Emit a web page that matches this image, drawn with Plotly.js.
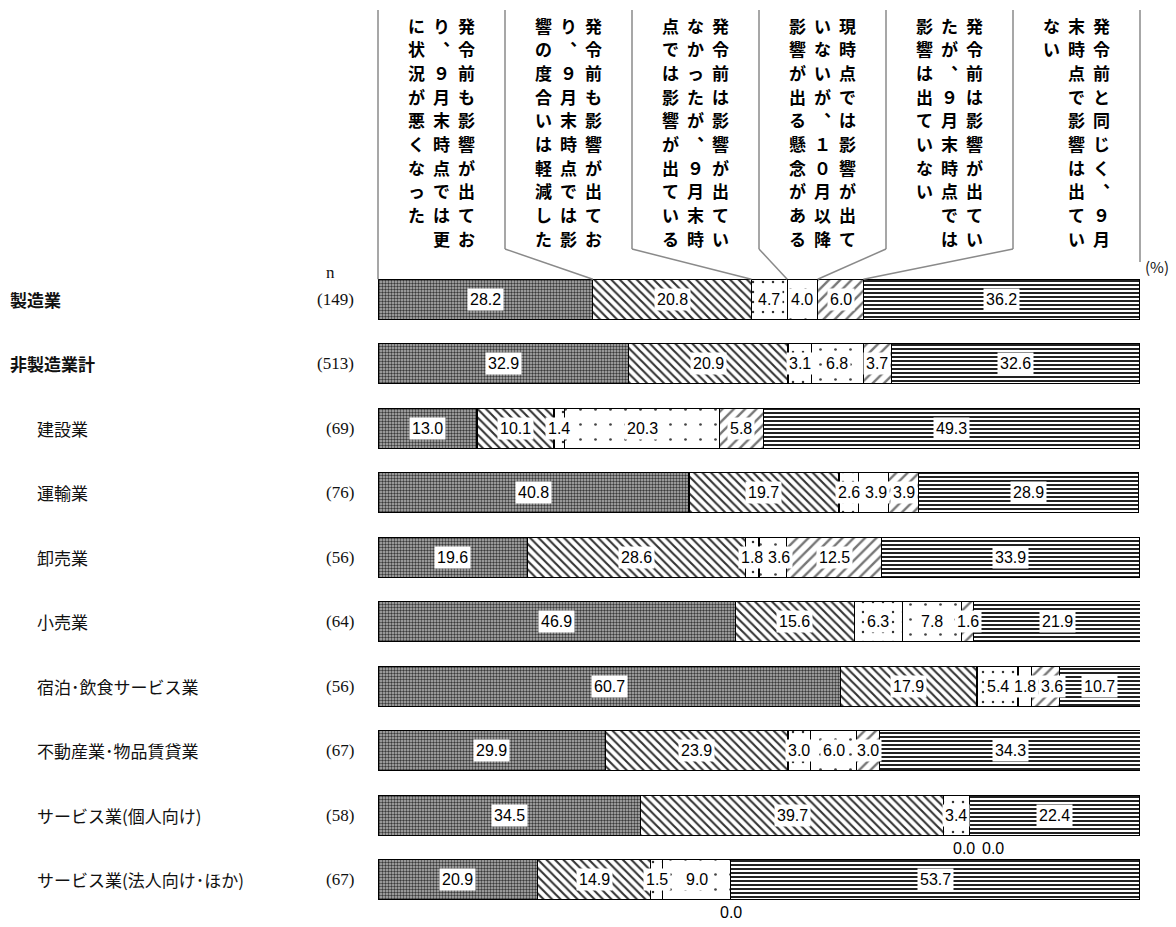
<!DOCTYPE html>
<html>
<head>
<meta charset="utf-8">
<script src="https://cdn.plot.ly/plotly-3.0.1.min.js"></script>
<style>
  body { margin: 0; background: #fff; }
  #g0 { width: 1176px; height: 927px; }
</style>
</head>
<body>
<div id="g0"></div>
<script>
// rows, top to bottom
const industries = ['製造業', '非製造業計', '建設業', '運輸業', '卸売業', '小売業',
  '宿泊･飲食サービス業', '不動産業･物品賃貸業', 'サービス業(個人向け)', 'サービス業(法人向け･ほか)'];
const nCounts = ['(149)', '(513)', '(69)', '(76)', '(56)', '(64)', '(56)', '(67)', '(58)', '(67)'];
const boldRows = ['製造業', '非製造業計'];

// shares (%) for each answer
const worse = [28.2, 32.9, 13.0, 40.8, 19.6, 46.9, 60.7, 29.9, 34.5, 20.9];
const eased = [20.8, 20.9, 10.1, 19.7, 28.6, 15.6, 17.9, 23.9, 39.7, 14.9];
const newImpact = [4.7, 3.1, 1.4, 2.6, 1.8, 6.3, 5.4, 3.0, 3.4, 1.5];
const concern = [4.0, 6.8, 20.3, 3.9, 3.6, 7.8, 1.8, 6.0, 0.0, 9.0];
const recovered = [6.0, 3.7, 5.8, 3.9, 12.5, 1.6, 3.6, 3.0, 0.0, 0.0];
const noImpact = [36.2, 32.6, 49.3, 28.9, 33.9, 21.9, 10.7, 34.3, 22.4, 53.7];

// header text, one entry per vertical line (right to left)
const headers = [
  ['発令前も影響が出てお', 'り︑９月末時点では更', 'に状況が悪くなった'],
  ['発令前も影響が出てお', 'り︑９月末時点では影', '響の度合いは軽減した'],
  ['発令前は影響が出てい', 'なかったが︑９月末時', '点では影響が出ている'],
  ['現時点では影響が出て', 'いないが︑１０月以降', '影響が出る懸念がある'],
  ['発令前は影響が出てい', 'たが︑９月末時点では', '影響は出ていない'],
  ['発令前と同じく︑９月', '末時点で影響は出てい', 'ない']
];

const series = [worse, eased, newImpact, concern, recovered, noImpact];
const patterns = [
  {shape: '.', fgcolor: '#3a3a3a', bgcolor: '#b8b8b8', size: 3, solidity: 0.5},
  {shape: '\\', fgcolor: '#333', bgcolor: '#fff', size: 6, solidity: 0.35},
  {shape: '.', fgcolor: '#333', bgcolor: '#fff', size: 10, solidity: 0.05},
  {shape: '.', fgcolor: '#444', bgcolor: '#fff', size: 15, solidity: 0.025},
  {shape: '/', fgcolor: '#777', bgcolor: '#fff', size: 8, solidity: 0.3},
  {shape: '-', fgcolor: '#222', bgcolor: '#fff', size: 4, solidity: 0.5}
];

const bargap = 0.38;
// pixel helpers for things drawn outside the plot area
const plotW = 762;
const px = x => (x - 378) / plotW;
const py = y => (912 - y) / 645;

let data = series.map((vals, i) => ({
  type: 'bar',
  orientation: 'h',
  x: vals,
  y: industries,
  name: headers[i].join(''),
  marker: {color: patterns[i].bgcolor, pattern: patterns[i], line: {color: '#000', width: 1.2}},
  hoverinfo: 'x+y'
}));

let annotations = [];
let shapes = [];
const numFont = {family: 'Liberation Sans, Arial, sans-serif', size: 16, color: '#000'};
const labelWidth = t => t.length * 8.9 - (t.includes('.') ? 4.4 : 0) + 4;

// value labels; nudge neighbours right when small segments would collide
industries.forEach((ind, r) => {
  let cum = 0;
  let zeros = [];
  let prevRight = -Infinity;
  series.forEach(vals => {
    const v = vals[r];
    if (v > 0) {
      const text = v.toFixed(1);
      const w = labelWidth(text);
      const center = (cum + v / 2) / 100 * plotW;
      const shift = Math.max(0, prevRight + 1 + w / 2 - center);
      prevRight = center + shift + w / 2;
      annotations.push({
        x: cum + v / 2, y: ind, xref: 'x', yref: 'y', text: text, showarrow: false,
        xshift: shift, bgcolor: '#fff', borderpad: 2, font: numFont
      });
    } else {
      zeros.push(cum);
    }
    cum += v;
  });
  zeros.forEach((z, k) => {
    const n = zeros.length;
    annotations.push({
      x: z, y: ind, xref: 'x', yref: 'y', text: '0.0', showarrow: false,
      yshift: -33, xshift: (k - (n - 1) / 2) * 29 + (n - 1) * 9.5, font: numFont
    });
  });

  // row labels
  const bold = boldRows.includes(ind);
  annotations.push({
    x: bold ? px(8) : px(35), y: ind, xref: 'paper', yref: 'y', xanchor: 'left', yanchor: 'middle',
    text: bold ? '<b>' + ind + '</b>' : ind, showarrow: false,
    font: {family: 'Noto Sans CJK JP, sans-serif', size: 17, color: '#111'}
  });
  annotations.push({
    x: px(356), y: ind, xref: 'paper', yref: 'y', xanchor: 'right', yanchor: 'middle',
    text: nCounts[r], showarrow: false,
    font: {family: 'Liberation Serif, serif', size: 17, color: '#111'}
  });
});

annotations.push({
  x: px(330), y: py(272), xref: 'paper', yref: 'paper', xanchor: 'center', yanchor: 'middle',
  text: 'n', showarrow: false,
  font: {family: 'Liberation Serif, serif', size: 17, color: '#111'}
});
annotations.push({
  x: px(1157), y: py(266), xref: 'paper', yref: 'paper', xanchor: 'center', yanchor: 'middle',
  text: '(%)', showarrow: false,
  font: {family: 'Noto Sans CJK JP, sans-serif', size: 15, color: '#111'}
});

// vertical header text, one annotation per character
headers.forEach((lines, c) => {
  const center = 378 + 127 * (c + 0.5);
  lines.forEach((line, j) => {
    Array.from(line).forEach((ch, k) => {
      annotations.push({
        x: px(center + 25 * (1 - j)), y: py(25 + 23.7 * k), xref: 'paper', yref: 'paper',
        xanchor: 'center', yanchor: 'middle', showarrow: false, borderpad: 0,
        text: '<b>' + ch + '</b>',
        font: {family: 'Noto Sans CJK JP, sans-serif', size: 17, color: '#000'}
      });
    });
  });
});

// header dividers and leader lines to the first bar
const barTop = 1 - (0.5 - (1 - bargap) / 2) / industries.length;
let cumFirst = 0;
const lineStyle = {color: '#8a8a8a', width: 1.5};
for (let i = 0; i <= 6; i++) {
  const xd = i / 6;
  shapes.push({type: 'line', xref: 'paper', yref: 'paper', x0: xd, x1: xd,
    y0: py(10), y1: i < 6 ? py(249) : py(262), line: lineStyle});
  if (i < 6) {
    shapes.push({type: 'line', xref: 'paper', yref: 'paper', x0: xd, x1: cumFirst / 100,
      y0: py(249), y1: barTop, line: lineStyle});
    cumFirst += series[i][0];
  }
}

const layout = {
  width: 1176,
  height: 927,
  margin: {l: 378, r: 36, t: 267, b: 15},
  barmode: 'stack',
  bargap: bargap,
  showlegend: false,
  paper_bgcolor: '#fff',
  plot_bgcolor: '#fff',
  xaxis: {range: [0, 100], visible: false, fixedrange: true},
  yaxis: {type: 'category', range: [9.5, -0.5], showticklabels: false, showgrid: false,
    zeroline: false, showline: false, ticks: '', fixedrange: true},
  annotations: annotations,
  shapes: shapes
};

Plotly.newPlot('g0', data, layout, {displayModeBar: false, staticPlot: true});
</script>
</body>
</html>
